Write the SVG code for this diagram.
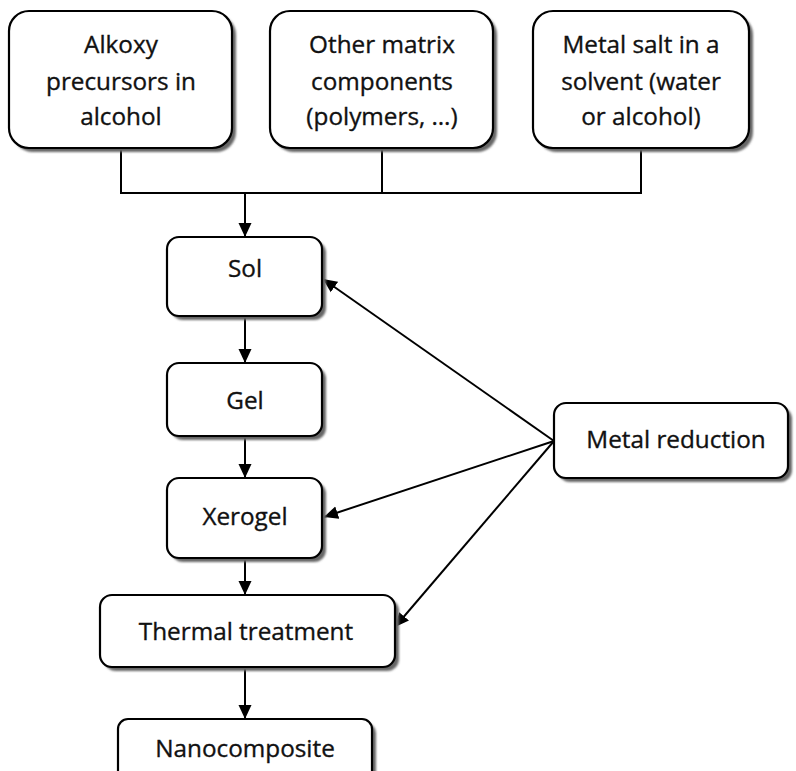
<svg xmlns="http://www.w3.org/2000/svg" width="796" height="771" viewBox="0 0 796 771">
<style>
.box{fill:#fff;stroke:#000;stroke-width:2.2}
.sh{fill:#666;filter:url(#blur)}
.t{font-family:"Open Sans","Noto Sans","Liberation Sans",sans-serif;font-size:24.3px;fill:#111;stroke:#111;stroke-width:0.35;text-anchor:middle}
.ln{fill:none;stroke:#000;stroke-width:2}
</style>
<defs>
<filter id="blur" x="-10%" y="-10%" width="120%" height="130%"><feGaussianBlur stdDeviation="1.3"/></filter>
<marker id="ah" markerWidth="14" markerHeight="14" viewBox="0 0 14 14" refX="14" refY="7" orient="auto" markerUnits="userSpaceOnUse">
<path d="M0,0.5 L14,7 L0,13.5 Z" fill="#000"/>
</marker>
</defs>
<g id="connectors">
<path class="ln" d="M121,148 V193 H641 V148 M382,148 V193"/>
<path class="ln" d="M245,193 V237" marker-end="url(#ah)"/>
<path class="ln" d="M245,316 V363" marker-end="url(#ah)"/>
<path class="ln" d="M245,436 V478" marker-end="url(#ah)"/>
<path class="ln" d="M245,558 V595" marker-end="url(#ah)"/>
<path class="ln" d="M245,667 V719" marker-end="url(#ah)"/>
<path class="ln" d="M554,441 L323,279" marker-end="url(#ah)"/>
<path class="ln" d="M554,441 L324,517" marker-end="url(#ah)"/>
<path class="ln" d="M554,441 L395,627" marker-end="url(#ah)"/>
</g>
<g id="alkoxy">
<rect class="sh" x="13" y="15" width="223" height="137" rx="20"/>
<rect class="box" x="9" y="11" width="223" height="137" rx="20"/>
<text class="t" x="121" y="53">Alkoxy</text>
<text class="t" x="121" y="90">precursors in</text>
<text class="t" x="121" y="125">alcohol</text>
</g>
<g id="matrix">
<rect class="sh" x="274" y="15" width="223" height="137" rx="20"/>
<rect class="box" x="270" y="11" width="223" height="137" rx="20"/>
<text class="t" x="382" y="53">Other matrix</text>
<text class="t" x="382" y="90">components</text>
<text class="t" x="382" y="125">(polymers, …)</text>
</g>
<g id="metalsalt">
<rect class="sh" x="537" y="15" width="216" height="137" rx="20"/>
<rect class="box" x="533" y="11" width="216" height="137" rx="20"/>
<text class="t" x="641" y="53">Metal salt in a</text>
<text class="t" x="641" y="90">solvent (water</text>
<text class="t" x="641" y="125">or alcohol)</text>
</g>
<g id="sol">
<rect class="sh" x="171" y="241" width="155" height="79" rx="12"/>
<rect class="box" x="167" y="237" width="155" height="79" rx="12"/>
<text class="t" x="245" y="277">Sol</text>
</g>
<g id="gel">
<rect class="sh" x="171" y="367" width="155" height="73" rx="12"/>
<rect class="box" x="167" y="363" width="155" height="73" rx="12"/>
<text class="t" x="245" y="409">Gel</text>
</g>
<g id="xerogel">
<rect class="sh" x="171" y="482" width="155" height="80" rx="12"/>
<rect class="box" x="167" y="478" width="155" height="80" rx="12"/>
<text class="t" x="245" y="525">Xerogel</text>
</g>
<g id="thermal">
<rect class="sh" x="104" y="599" width="295" height="72" rx="12"/>
<rect class="box" x="100" y="595" width="295" height="72" rx="12"/>
<text class="t" x="246" y="640">Thermal treatment</text>
</g>
<g id="nano">
<rect class="sh" x="122" y="723" width="254" height="70" rx="10"/>
<rect class="box" x="118" y="719" width="254" height="70" rx="10"/>
<text class="t" x="245" y="757">Nanocomposite</text>
</g>
<g id="metalred">
<rect class="sh" x="558" y="407" width="234" height="75" rx="12"/>
<rect class="box" x="554" y="403" width="234" height="75" rx="12"/>
<text class="t" x="676" y="448">Metal reduction</text>
</g>
</svg>
